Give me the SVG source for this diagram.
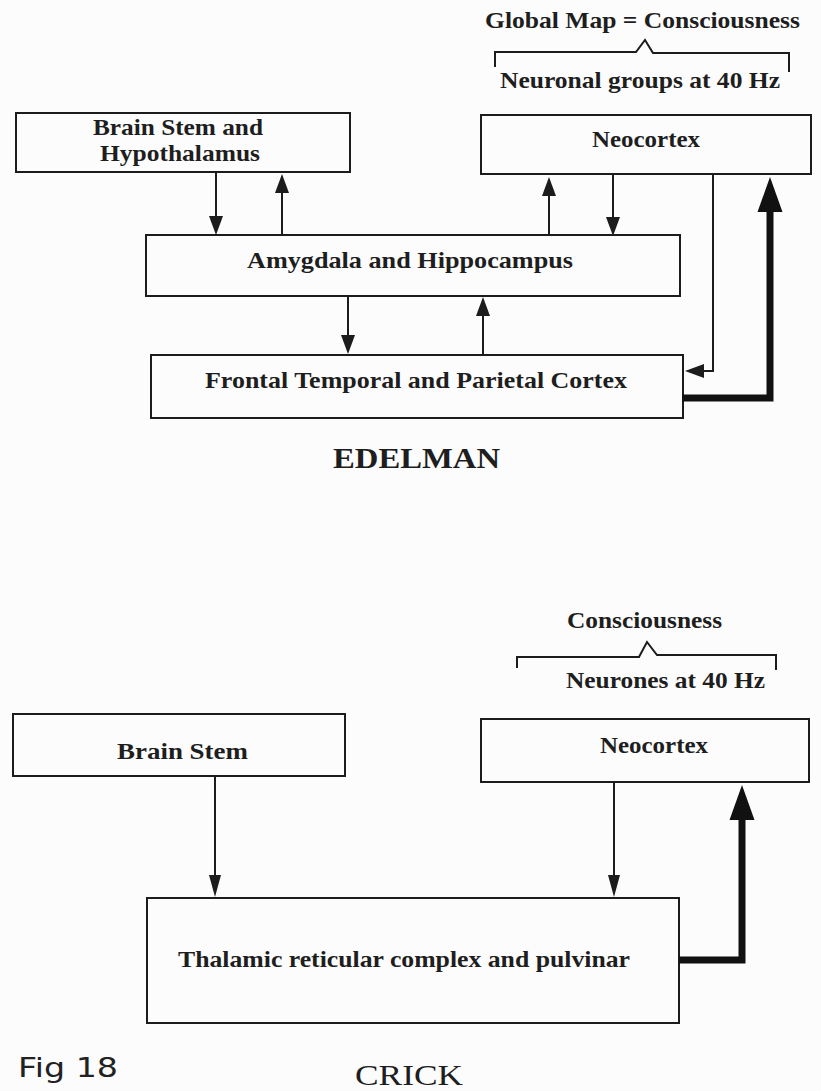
<svg xmlns="http://www.w3.org/2000/svg" width="821" height="1091" viewBox="0 0 821 1091">
<style>
.box{fill:none;stroke:#1c1c1c;stroke-width:2}
.t{font-family:"Liberation Serif","Times New Roman",serif;font-weight:bold;font-size:23.5px;fill:#1e1e1e}
.title{font-family:"Liberation Serif","Times New Roman",serif;font-size:29px;fill:#1e1e1e}
.ln{fill:none;stroke:#1c1c1c;stroke-width:2}
.thick{fill:none;stroke:#111;stroke-width:7}
.br{fill:none;stroke:#1c1c1c;stroke-width:2}
</style>
<defs>
<marker id="ah" viewBox="0 -7 19 14" refX="0" refY="0" markerWidth="19" markerHeight="14" markerUnits="userSpaceOnUse" orient="auto" overflow="visible"><path d="M0,-7 L19,0 L0,7 z" fill="#1c1c1c"/></marker>
<marker id="ah2" viewBox="0 -6 22 12" refX="0" refY="0" markerWidth="22" markerHeight="12" markerUnits="userSpaceOnUse" orient="auto" overflow="visible"><path d="M0,-6 L22,0 L0,6 z" fill="#1c1c1c"/></marker>
<marker id="ahT" viewBox="0 -12.5 35 25" refX="0" refY="0" markerWidth="35" markerHeight="25" markerUnits="userSpaceOnUse" orient="auto" overflow="visible"><path d="M0,-12.5 L35,0 L0,12.5 z" fill="#111"/></marker>
</defs>
<rect width="821" height="1091" fill="#fcfcfc"/>

<g id="edelman-labels">
<text class="t" x="485" y="28" textLength="315" lengthAdjust="spacingAndGlyphs">Global Map = Consciousness</text>
<path class="br" d="M495,67 V52 H636 L645,40 L653,53 H789 V72"/>
<text class="t" x="500" y="88" textLength="280" lengthAdjust="spacingAndGlyphs">Neuronal groups at 40 Hz</text>
</g>

<g id="e-brainstem">
<rect class="box" x="16" y="113" width="334" height="59"/>
<text class="t" x="93" y="135" textLength="170" lengthAdjust="spacingAndGlyphs">Brain Stem and</text>
<text class="t" x="100" y="161" textLength="160" lengthAdjust="spacingAndGlyphs">Hypothalamus</text>
</g>
<g id="e-neocortex">
<rect class="box" x="481" y="115" width="330" height="59"/>
<text class="t" x="592" y="147" textLength="108" lengthAdjust="spacingAndGlyphs">Neocortex</text>
</g>
<g id="e-amygdala">
<rect class="box" x="146" y="235" width="534" height="61"/>
<text class="t" x="247" y="268" textLength="326" lengthAdjust="spacingAndGlyphs">Amygdala and Hippocampus</text>
</g>
<g id="e-frontal">
<rect class="box" x="151" y="355" width="532" height="63"/>
<text class="t" x="205" y="388" textLength="422" lengthAdjust="spacingAndGlyphs">Frontal Temporal and Parietal Cortex</text>
</g>
<g id="e-title">
<text class="title" font-weight="bold" x="333" y="468" textLength="167" lengthAdjust="spacingAndGlyphs">EDELMAN</text>
</g>

<g id="edelman-connectors">
<line class="ln" x1="216" y1="172" x2="216" y2="216" marker-end="url(#ah)"/>
<line class="ln" x1="282" y1="235" x2="282" y2="193" marker-end="url(#ah)"/>
<line class="ln" x1="549" y1="235" x2="549" y2="196" marker-end="url(#ah)"/>
<line class="ln" x1="613" y1="175" x2="613" y2="217" marker-end="url(#ah)"/>
<path class="ln" d="M713,174 V371 H704" marker-end="url(#ah)"/>
<path class="thick" d="M682,398 H770 V212" marker-end="url(#ahT)"/>
<line class="ln" x1="348" y1="296" x2="348" y2="335" marker-end="url(#ah)"/>
<line class="ln" x1="483" y1="355" x2="483" y2="316" marker-end="url(#ah)"/>
</g>

<g id="crick-labels">
<text class="t" x="567" y="628" textLength="155" lengthAdjust="spacingAndGlyphs">Consciousness</text>
<path class="br" d="M517,668 V657 H639 L647,642 L657,655 H776 V670"/>
<text class="t" x="566" y="688" textLength="199" lengthAdjust="spacingAndGlyphs">Neurones at 40 Hz</text>
</g>
<g id="c-brainstem">
<rect class="box" x="13" y="714" width="332" height="62"/>
<text class="t" x="117" y="759" textLength="131" lengthAdjust="spacingAndGlyphs">Brain Stem</text>
</g>
<g id="c-neocortex">
<rect class="box" x="481" y="719" width="328" height="63"/>
<text class="t" x="600" y="753" textLength="108" lengthAdjust="spacingAndGlyphs">Neocortex</text>
</g>
<g id="c-thalamic">
<rect class="box" x="147" y="898" width="532" height="125"/>
<text class="t" x="178" y="967" textLength="452" lengthAdjust="spacingAndGlyphs">Thalamic reticular complex and pulvinar</text>
</g>
<g id="c-title">
<text class="title" x="355" y="1085" textLength="108" lengthAdjust="spacingAndGlyphs">CRICK</text>
<text x="18" y="1077" font-family="DejaVu Sans, sans-serif" font-size="26" fill="#222" textLength="100" lengthAdjust="spacingAndGlyphs">Fig 18</text>
</g>

<g id="crick-connectors">
<line class="ln" x1="215" y1="776" x2="215" y2="875" marker-end="url(#ah2)"/>
<line class="ln" x1="614" y1="782" x2="614" y2="875" marker-end="url(#ah2)"/>
<path class="thick" d="M679,960 H742 V820" marker-end="url(#ahT)"/>
</g>
</svg>
